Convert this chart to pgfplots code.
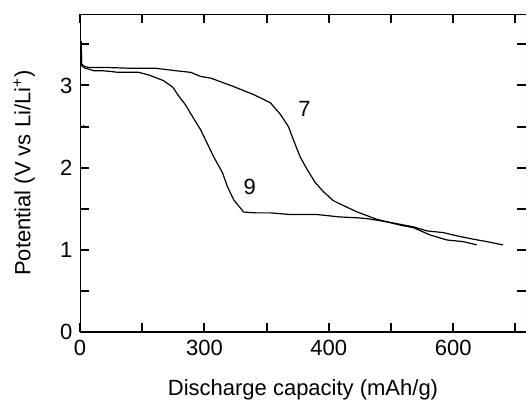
\documentclass[border=0pt]{standalone}
\usepackage{fontspec}
\setmainfont{Liberation Sans}
\usepackage{pgfplots}
\pgfplotsset{compat=1.18}

% curves, x in mAh/g, y in V
\pgfplotstableread{
x y
2 3.54
2.5 3.26
8 3.23
14 3.22
40 3.22
80 3.21
121 3.21
154 3.18
178 3.16
194 3.11
210 3.09
246 2.99
279 2.89
306 2.79
322 2.65
335 2.50
343 2.34
354 2.13
365 1.98
378 1.82
391 1.71
407 1.60
423 1.54
446 1.46
467 1.40
478 1.37
494 1.34
515 1.30
536 1.27
563 1.18
590 1.12
616 1.10
638 1.06
}\seven

\pgfplotstableread{
x y
2 3.54
2.5 3.24
8 3.21
14 3.20
22 3.18
36 3.18
50 3.17
61 3.16
94 3.16
110 3.13
134 3.06
149 2.98
158 2.88
170 2.76
181 2.62
194 2.46
215 2.13
229 1.94
237 1.77
247 1.61
263 1.46
282 1.45
306 1.45
338 1.43
381 1.43
418 1.40
446 1.39
461 1.38
478 1.36
494 1.34
515 1.31
536 1.28
558 1.23
584 1.21
606 1.17
632 1.13
654 1.10
680 1.06
}\nine

\begin{document}
\fontsize{11}{13}\selectfont
\begin{tikzpicture}
\begin{axis}[
  scale only axis,
  width=223pt, height=159pt,
  xmin=0, xmax=717,
  ymin=0, ymax=3.87,
  xtick={0,100,...,700},
  xticklabels={0,,300,,400,,600,},
  ytick={0,0.5,...,3.5},
  yticklabels={0,,1,,2,,3,},
  tick align=inside,
  major tick length=4.5pt,
  every tick/.style={black, line width=1pt},
  axis line style={draw=none},
  tick label style={font=\fontsize{11}{13}\selectfont},
  label style={font=\fontsize{11}{13}\selectfont},
  /pgf/number format/assume math mode=true,
  xlabel={Discharge capacity (mAh/g)},
  ylabel={Potential (V vs Li/Li\textsuperscript{+})},
  xlabel shift=4.5pt,
  ylabel shift=5pt,
]
\addplot[black, line width=0.6pt] table {\seven};
\addplot[black, line width=0.6pt] table {\nine};
\addplot[only marks, mark=*, mark size=0.5pt, black] coordinates {(6,2.5)};
\node at (axis cs:361,2.71) {7};
\node at (axis cs:273,1.76) {9};
\draw[line width=1pt] (rel axis cs:1,1) -- (rel axis cs:0,1) -- (rel axis cs:0,0) -- (rel axis cs:1,0);
\draw[gray!45, line width=0.4pt] (rel axis cs:1,0) -- (rel axis cs:1,1);
\end{axis}
\path[use as bounding box] (-40pt,-34pt) rectangle (224pt,166pt);
\end{tikzpicture}
\end{document}
